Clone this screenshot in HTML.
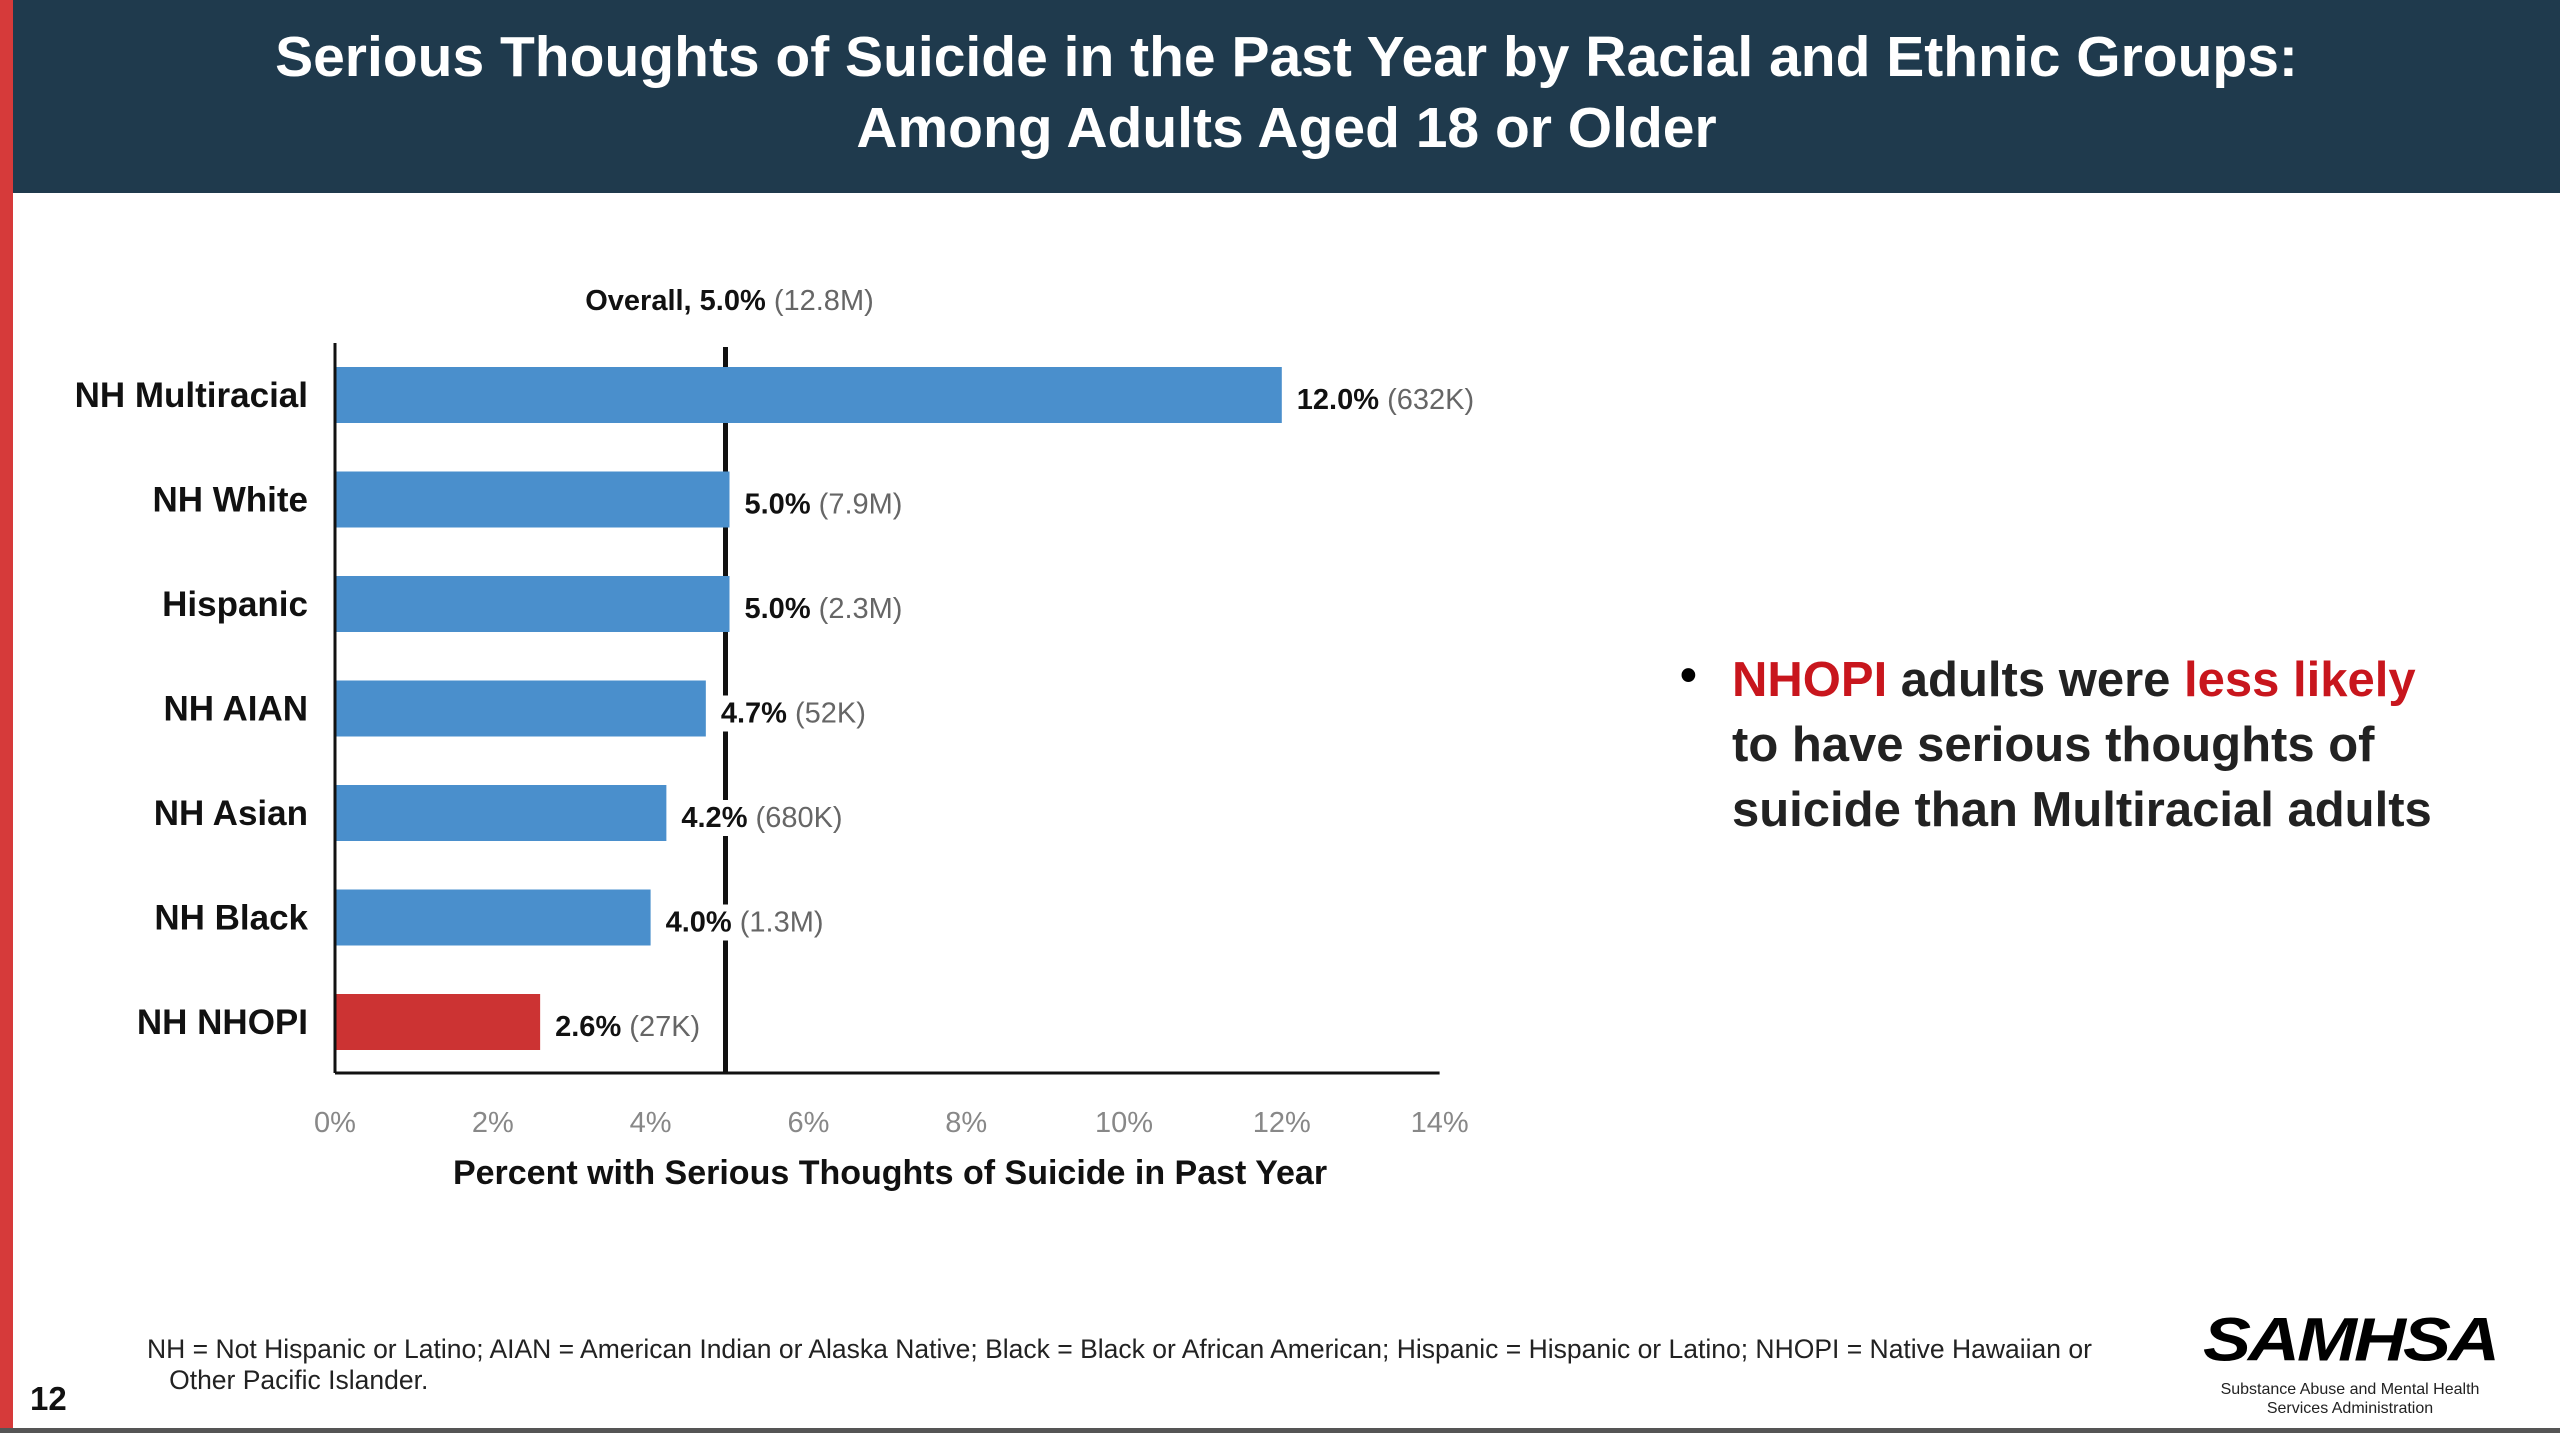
<!DOCTYPE html>
<html><head><meta charset="utf-8"><style>
body{margin:0;width:2560px;height:1440px;background:#fff;overflow:hidden;font-family:"Liberation Sans",sans-serif;position:relative}
.hdr{position:absolute;left:0;top:0;width:2560px;height:193px;background:#1f3a4d}
.red{position:absolute;left:0;top:0;width:13px;height:1432px;background:#d63a3a}
.title{position:absolute;left:13px;width:2547px;top:22px;text-align:center;color:#fff;font-size:57px;font-weight:bold;line-height:71px}
.bul{position:absolute;left:1732px;top:648px;font-size:49px;font-weight:bold;color:#222;line-height:65px}
.foot{position:absolute;left:147px;top:1334px;font-size:26.5px;color:#222;line-height:31px}
</style></head><body>
<div class="hdr"></div>
<div class="red"></div>
<div class="title">Serious Thoughts of Suicide in the Past Year by Racial and Ethnic Groups:<br>Among Adults Aged 18 or Older</div>
<svg id="chart" width="2560" height="1440" style="position:absolute;left:0;top:0"></svg>
<div style="position:absolute;left:1680px;top:648px;font-size:48px;font-weight:bold">•</div>
<div class="bul"><span style="color:#c8161d">NHOPI</span> adults were <span style="color:#c8161d">less likely</span><br>to have serious thoughts of<br>suicide than Multiracial adults</div>
<div class="foot">NH = Not Hispanic or Latino; AIAN = American Indian or Alaska Native; Black = Black or African American; Hispanic = Hispanic or Latino; NHOPI = Native Hawaiian or<br>&nbsp;&nbsp;&nbsp;Other Pacific Islander.</div>
<div style="position:absolute;left:30px;top:1380px;font-size:33px;font-weight:bold;color:#111">12</div>
<div style="position:absolute;left:2200px;top:1300px;width:300px;text-align:center">
<div style="font-size:72px;font-weight:bold;font-style:italic;letter-spacing:-3px;color:#000;line-height:80px;transform:scaleY(0.85)">SAMHSA</div>
<div style="font-size:16px;color:#222;line-height:19px">Substance Abuse and Mental Health<br>Services Administration</div></div>
<div style="position:absolute;left:0;top:1428px;width:2560px;height:5px;background:#555"></div>
<script>
const categories=["NH Multiracial","NH White","Hispanic","NH AIAN","NH Asian","NH Black","NH NHOPI"];
const values=[12.0,5.0,5.0,4.7,4.2,4.0,2.6];
const counts=["632K","7.9M","2.3M","52K","680K","1.3M","27K"];
const ticks=[0,2,4,6,8,10,12,14];
const overall=5.0;
const NS="http://www.w3.org/2000/svg";
const svg=document.getElementById('chart');
const x0=335,pxPer=78.9,yTop=343,yBot=1073,y0=395,step=104.5,bh=56;
const xs=v=>x0+v*pxPer, ys=i=>y0+i*step;
function mk(t,a,txt){const e=document.createElementNS(NS,t);for(const k in a)e.setAttribute(k,a[k]);if(txt!=null)e.textContent=txt;svg.appendChild(e);return e;}
let e;
e=mk('line',{x1:xs(overall)-4,x2:xs(overall)-4,y1:yTop+4,y2:yBot,stroke:'#111','stroke-width':5});


e=mk('text',{x:xs(overall),y:310,'text-anchor':'middle','font-size':29,fill:'#111'});


e.innerHTML='<tspan font-weight="bold">Overall, 5.0%</tspan><tspan fill="#666"> (12.8M)</tspan>';
categories.forEach((c,i)=>{
  const b=mk('rect',{x:x0,y:ys(i)-bh/2,width:xs(values[i])-x0,height:bh,fill:c==="NH NHOPI"?'#cc3333':'#4a8fcc'});
  
  
  const l=mk('text',{x:308,y:ys(i)+12,'text-anchor':'end','font-size':35,'font-weight':'bold',fill:'#111'},c);
  
  
  const v=mk('text',{x:xs(values[i])+15,y:ys(i)+14,'font-size':29,fill:'#111'});
  
  
  v.innerHTML='<tspan font-weight="bold">'+values[i].toFixed(1)+'%</tspan><tspan fill="#666"> ('+counts[i]+')</tspan>';
  const bb=v.getBBox();
  const bg=mk('rect',{x:bb.x-6,y:bb.y-2,width:bb.width+10,height:bb.height+4,fill:'#fff'});
  
  
  svg.insertBefore(bg,v);
});
e=mk('line',{x1:x0,x2:x0,y1:yTop,y2:yBot,stroke:'#111','stroke-width':3});


e=mk('line',{x1:x0,x2:xs(14),y1:yBot,y2:yBot,stroke:'#111','stroke-width':3});


ticks.forEach(t=>{
  const tl=mk('text',{x:xs(t),y:1132,'text-anchor':'middle','font-size':29,fill:'#888'},t+'%');
  
  
});
e=mk('text',{x:890,y:1184,'text-anchor':'middle','font-size':34,'font-weight':'bold',fill:'#111'},'Percent with Serious Thoughts of Suicide in Past Year');


</script>
</body></html>
